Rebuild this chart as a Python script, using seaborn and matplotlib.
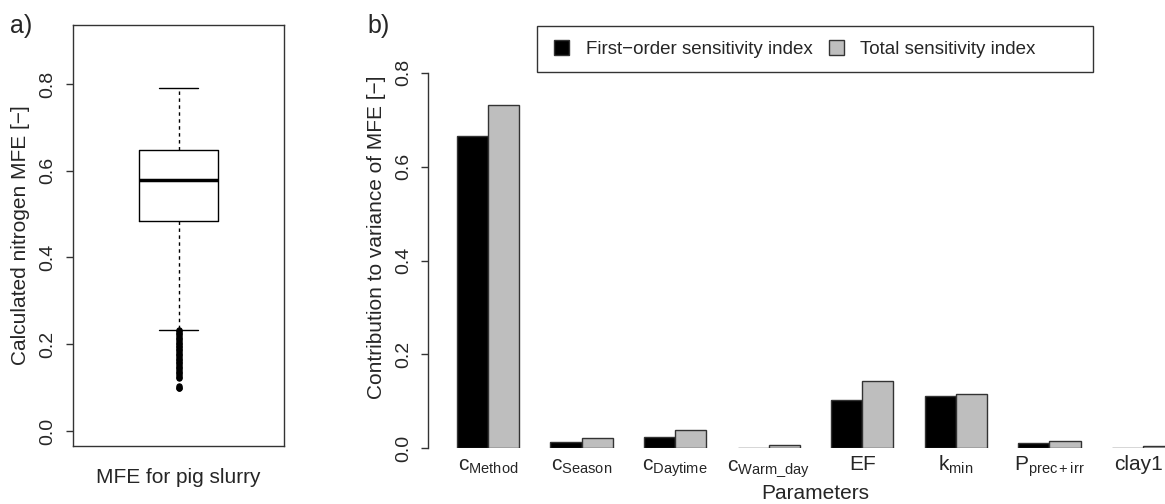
import pandas as pd
import seaborn as sns
import matplotlib
matplotlib.use('Agg')
import matplotlib.pyplot as plt
from matplotlib.patches import Rectangle
from matplotlib.ticker import FormatStrFormatter
from matplotlib.transforms import offset_copy

# panel a) box summary of calculated MFE
mfe_label = 'MFE for pig slurry'
mfe_whislo = 0.233
mfe_q1 = 0.483
mfe_med = 0.578
mfe_q3 = 0.647
mfe_whishi = 0.791
mfe_outliers = [0.233, 0.230, 0.226, 0.223, 0.219, 0.215, 0.212, 0.208, 0.204, 0.200,
                0.197, 0.193, 0.189, 0.186, 0.182, 0.178, 0.175, 0.171, 0.167, 0.163,
                0.160, 0.156, 0.152, 0.148, 0.145, 0.141, 0.137, 0.133, 0.129, 0.125,
                0.122, 0.103, 0.100, 0.098]

# panel b) sensitivity indices
params = [r'$\mathrm{c_{Method}}$', r'$\mathrm{c_{Season}}$', r'$\mathrm{c_{Daytime}}$',
          r'$\mathrm{c_{Warm\_day}}$', 'EF', r'$\mathrm{k_{min}}$',
          r'$\mathrm{P_{prec+irr}}$', 'clay1']
first_order = [0.665, 0.014, 0.025, 0.0015, 0.103, 0.1115, 0.012, 0.0005]
total_order = [0.731, 0.0226, 0.040, 0.0077, 0.1436, 0.116, 0.0156, 0.004]
index_names = ['First\u2212order sensitivity index', 'Total sensitivity index']

sns.set_theme(style='white')
plt.rcParams['font.family'] = ['Liberation Sans', 'DejaVu Sans']
plt.rcParams['mathtext.fontset'] = 'custom'
plt.rcParams['mathtext.rm'] = 'Liberation Sans'
plt.rcParams['mathtext.it'] = 'Liberation Sans:italic'
plt.rcParams['mathtext.bf'] = 'Liberation Sans:bold'

W, H = 1165, 504
fig = plt.figure(figsize=(W / 100, H / 100), dpi=100)
edge = '#333333'

# ---- a) boxplot ----
axa = fig.add_axes([73 / W, 1 - 446 / H, 211 / W, 421 / H])
stats = [dict(med=mfe_med, q1=mfe_q1, q3=mfe_q3, whislo=mfe_whislo,
              whishi=mfe_whishi, fliers=mfe_outliers, label=mfe_label)]
axa.bxp(stats, positions=[1], widths=0.4, capwidths=0.2, manage_ticks=False,
        boxprops=dict(color='black', lw=1),
        medianprops=dict(color='black', lw=2.5),
        whiskerprops=dict(color='black', lw=1, linestyle=(0, (2.5, 2.5))),
        capprops=dict(color='black', lw=1),
        flierprops=dict(marker='o', markersize=3.8, markerfacecolor='black',
                        markeredgecolor='black', markeredgewidth=0.8))
axa.set_xlim(0.46, 1.54)
axa.set_ylim(-0.0346, 0.936)
axa.set_yticks([0, 0.2, 0.4, 0.6, 0.8])
axa.yaxis.set_major_formatter(FormatStrFormatter('%.1f'))
axa.set_xticks([1], [mfe_label])
for s in axa.spines.values():
    s.set_color(edge)
    s.set_linewidth(1)
axa.tick_params(axis='y', left=True, length=5, width=1, color=edge, pad=7, labelsize=14)
axa.tick_params(axis='x', length=0, pad=26.5, labelsize=15)
plt.setp(axa.get_yticklabels(), rotation=90, va='center')
plt.setp(axa.get_xticklabels(), va='baseline')
axa.set_ylabel('Calculated nitrogen MFE [\u2212]', fontsize=15)
axa.yaxis.set_label_coords((21 - 73) / 211, 0.5)
axa.yaxis.label.set_va('center')

# ---- b) sensitivity bars ----
df = pd.DataFrame({'Parameter': params + params,
                   'Index': [index_names[0]] * len(params) + [index_names[1]] * len(params),
                   'Value': first_order + total_order})
axb = fig.add_axes([428 / W, 1 - 448.3 / H, 775 / W, 422.3 / H])
sns.barplot(data=df, x='Parameter', y='Value', hue='Index', palette=['black', '#bebebe'],
            width=2 / 3, edgecolor=edge, linewidth=1, errorbar=None, saturation=1, ax=axb)
axb.set_xlim(-0.641, 7.641)
axb.set_ylim(0, 0.9)
axb.set_yticks([0, 0.2, 0.4, 0.6, 0.8])
axb.yaxis.set_major_formatter(FormatStrFormatter('%.1f'))
for k in ['top', 'right', 'bottom']:
    axb.spines[k].set_visible(False)
axb.spines['left'].set_color(edge)
axb.spines['left'].set_linewidth(1)
axb.spines['left'].set_bounds(0, 0.8)
axb.tick_params(axis='y', left=True, length=5, width=1, color=edge, pad=6.5, labelsize=14)
axb.tick_params(axis='x', length=0, pad=15.8, labelsize=15)
plt.setp(axb.get_yticklabels(), rotation=90, va='center')
plt.setp(axb.get_xticklabels(), va='baseline')
# last label sits at the right figure edge: nudge it inwards a little
last = axb.get_xticklabels()[-1]
last.set_transform(offset_copy(last.get_transform(), fig=fig, x=-5, units='dots'))
axb.set_ylabel('Contribution to variance of MFE [\u2212]', fontsize=15)
axb.yaxis.set_label_coords((377 - 428) / 775, 0.5)
axb.yaxis.label.set_va('center')
axb.set_xlabel('Parameters', fontsize=15)
axb.xaxis.set_label_coords(0.5, (448.3 - 499) / 422.3)
axb.xaxis.label.set_va('baseline')

handles, labels = axb.get_legend_handles_labels()
axb.legend(handles, labels, ncol=2, frameon=False, loc='center left',
           bbox_to_anchor=(554 / W, 1 - 49 / H), bbox_transform=fig.transFigure,
           borderpad=0, borderaxespad=0, fontsize=13.5, handlelength=0.8,
           handleheight=0.8, handletextpad=0.9, columnspacing=0.85)
fig.add_artist(Rectangle((537 / W, 1 - 72 / H), 556 / W, 46 / H, transform=fig.transFigure,
                         fill=False, edgecolor=edge, linewidth=1))

fig.text(10 / W, 1 - 33 / H, 'a)', fontsize=18)
fig.text(367 / W, 1 - 33 / H, 'b)', fontsize=18)

fig.savefig('out.png', dpi=100)
